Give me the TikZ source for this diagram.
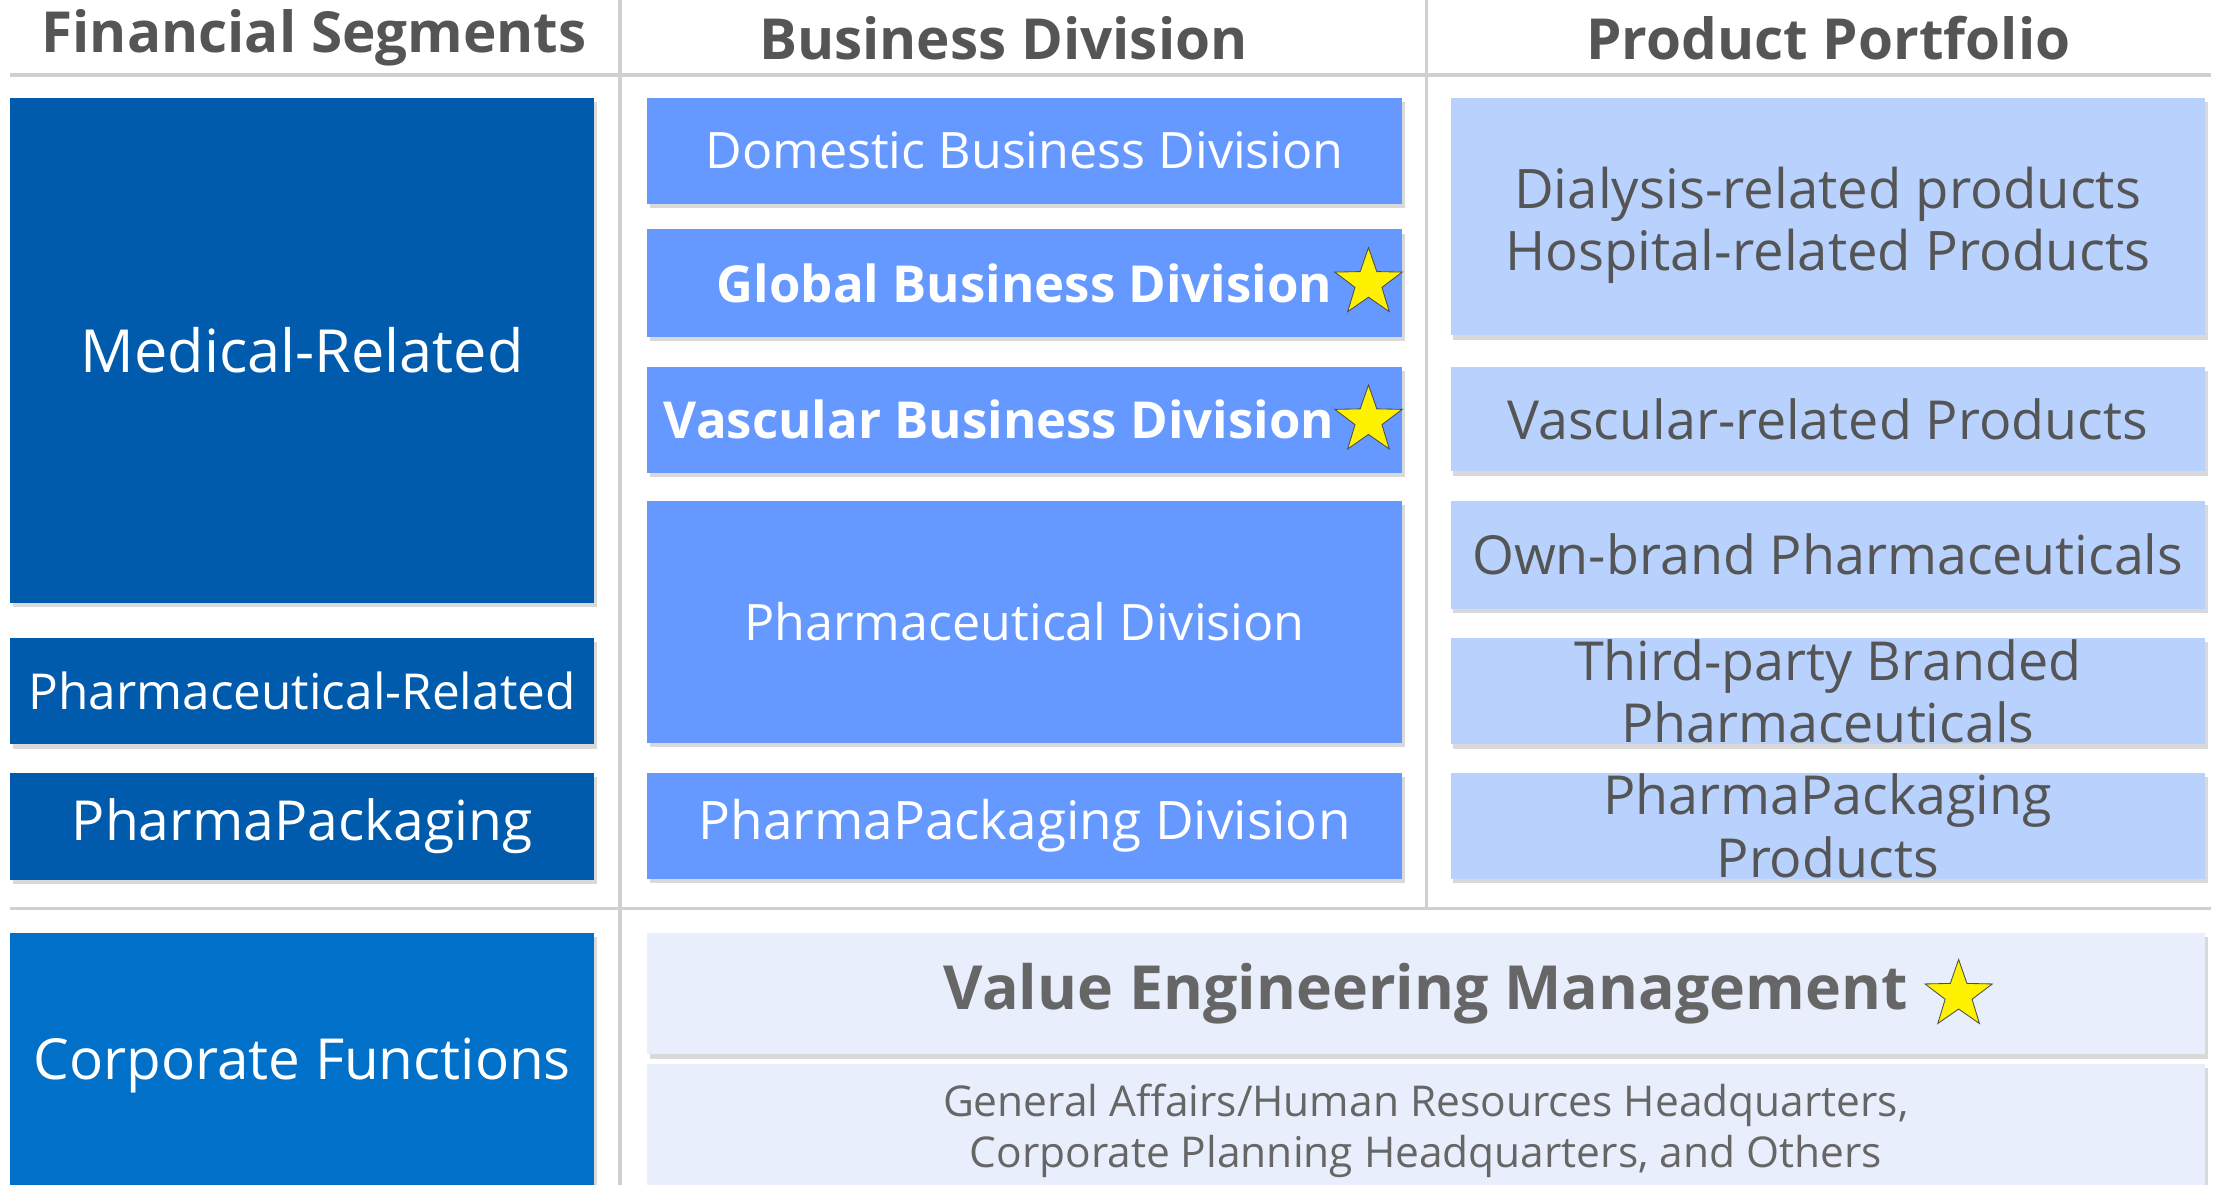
\documentclass[tikz,border=0pt]{standalone}
\usepackage{fontspec}
\setmainfont{Open Sans}
\usetikzlibrary{positioning,shapes.geometric,shadows}
\definecolor{segblue}{HTML}{005BAC}
\definecolor{corpblue}{HTML}{0070C8}
\definecolor{divblue}{HTML}{6699FF}
\definecolor{prodblue}{HTML}{B8D1FD}
\definecolor{funcblue}{HTML}{E8EEFB}
\definecolor{rulegray}{HTML}{D0D0D0}
\definecolor{textgray}{HTML}{555555}

\begin{document}
\begin{tikzpicture}[x=1pt, y=-1pt,
    box/.style={
        rectangle,
        inner sep=0pt,
        align=center,
        drop shadow={shadow xshift=2pt, shadow yshift=-3pt, opacity=0.3}
    },
    header/.style={text=textgray, font=\bfseries\fontsize{40}{46}\selectfont},
    segment/.style={box, fill=segblue, text=white, minimum width=413pt,
        font=\fontsize{40}{46}\selectfont},
    division/.style={box, fill=divblue, text=white, minimum width=534pt,
        font=\fontsize{35.5}{40}\selectfont},
    product/.style={box, fill=prodblue, text=textgray, minimum width=533pt,
        font=\fontsize{38}{44}\selectfont},
    function/.style={box, fill=funcblue, text=textgray!90!white, minimum width=1101pt},
    award/.style={star, star points=5, star point ratio=2.5, minimum size=50pt,
        inner sep=0pt, fill=yellow, draw=gray!60!black, line width=0.6pt},
    rule/.style={rulegray, line width=2.5pt}
]
    \useasboundingbox (0,0) rectangle (1568,837);
    \clip (0,0) rectangle (1568,837);

    % grid lines
    \draw[rule] (7,53) -- (1562,53);
    \draw[rule] (7,642) -- (1562,642);
    \draw[rule] (438,0) -- (438,837);
    \draw[rule] (1008,0) -- (1008,642);

    % headers
    \node (financial_segments) [header] at (222,27) {Financial Segments};
    \node (business_division) [header] at (709,27) {Business Division};
    \node (product_portfolio) [header] at (1292,27) {Product Portfolio};

    % financial segments
    \node (medical_related) [segment, minimum height=357pt,
        font=\fontsize{42}{46}\selectfont] at (213.5,247.5)
    {%
        Medical-Related%
    };
    \node (pharma_related) [segment, minimum height=75pt,
        font=\fontsize{35}{40}\selectfont] at (213.5,488.5)
    {%
        Pharmaceutical-Related%
    };
    \node (pharmapackaging_seg) [segment, minimum height=76pt,
        font=\fontsize{39}{46}\selectfont] at (213.5,584)
    {%
        PharmaPackaging%
    };
    \node (corporate_functions) [segment, fill=corpblue, minimum height=188pt] at (213.5,753)
    {%
        Corporate Functions%
    };

    % business divisions
    \node (domestic_div) [division, minimum height=75pt] at (724,106.5)
    {%
        Domestic Business Division%
    };
    \node (global_div) [division, minimum height=76pt, font=\bfseries\fontsize{36}{40}\selectfont] at (724,200)
    {%
        Global Business Division%
    };
    \node (vascular_div) [division, minimum height=75pt, font=\bfseries\fontsize{36}{40}\selectfont] at (724,296.5)
    {%
        Vascular Business Division\hspace*{36pt}%
    };
    \node (pharma_div) [division, minimum height=171pt] at (724,439.5)
    {%
        Pharmaceutical Division%
    };
    \node (pharmapackaging_div) [division, minimum height=75pt,
        font=\fontsize{37.5}{40}\selectfont] at (724,583.5)
    {%
        PharmaPackaging Division%
    };

    % product portfolio
    \node (dialysis_prod) [product, minimum height=168pt,
        font=\fontsize{38.5}{44}\selectfont] at (1291.5,153)
    {%
        \rule{0pt}{42pt}Dialysis-related products\\Hospital-related Products%
    };
    \node (vascular_prod) [product, minimum height=74pt] at (1291.5,296)
    {%
        Vascular-related Products%
    };
    \node (ownbrand_prod) [product, minimum height=76pt] at (1291.5,392)
    {%
        Own-brand Pharmaceuticals%
    };
    \node (thirdparty_prod) [product, minimum height=75pt] at (1291.5,488.5)
    {%
        Third-party Branded\\Pharmaceuticals%
    };
    \node (pharmapackaging_prod) [product, minimum height=75pt] at (1291.5,583.5)
    {%
        PharmaPackaging\\Products%
    };

    % corporate functions
    \node (value_engineering) [function, minimum height=86pt,
        font=\bfseries\fontsize{43}{48}\selectfont] at (1007.5,702)
    {%
        Value Engineering Management%
    };
    \node (general_affairs) [function, minimum height=94pt,
        font=\fontsize{30}{36}\selectfont] at (1007.5,799)
    {%
        General Affairs/Human Resources Headquarters,\\Corporate Planning Headquarters, and Others%
    };

    % stars
    \node (global_star) [award] at (967,200) {};
    \node (vascular_star) [award] at (967,297) {};
    \node (value_star) [award] at (1384,703) {};

\end{tikzpicture}
\end{document}
